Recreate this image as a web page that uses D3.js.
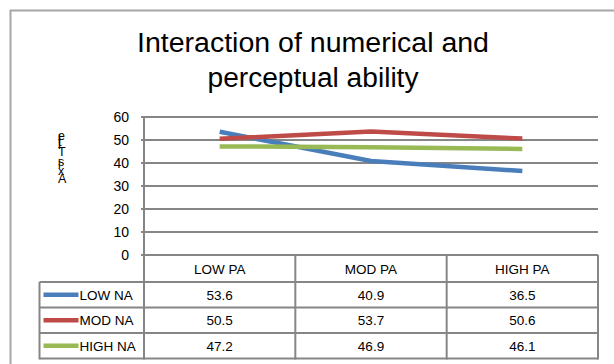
<!DOCTYPE html>
<html>
<head>
<meta charset="utf-8">
<script src="https://cdn.jsdelivr.net/npm/d3@7"></script>
<style>
  body { margin: 0; background: #fff; }
  svg { display: block; }
  text { font-family: "Liberation Sans Narrow", "Arial Narrow", "Liberation Sans", sans-serif; fill: #000; }
</style>
</head>
<body>
<div id="chart"></div>
<script>
// DATA
const categories = ["LOW PA", "MOD PA", "HIGH PA"];
const seriesNames = ["LOW NA", "MOD NA", "HIGH NA"];
const lowNA = [53.6, 40.9, 36.5];
const modNA = [50.5, 53.7, 50.6];
const highNA = [47.2, 46.9, 46.1];
const yTicks = [0, 10, 20, 30, 40, 50, 60];
const colors = ["#4a7ebb", "#be4b48", "#98b954"];

const series = [lowNA, modNA, highNA];

const w = 614, h = 364;
const svg = d3.select("#chart").append("svg")
  .attr("width", w).attr("height", h);

// outer chart border (only top and left visible)
svg.append("path")
  .attr("d", `M10.5,${h} V10.5 H${w}`)
  .attr("fill", "none")
  .attr("stroke", "#a6a6a6")
  .attr("stroke-width", 2);

// title
const title = svg.append("g");
title.append("text")
  .attr("x", 313).attr("y", 52)
  .attr("text-anchor", "middle")
  .attr("font-size", 27)
  .attr("textLength", 352).attr("lengthAdjust", "spacingAndGlyphs")
  .text("Interaction of numerical and");
title.append("text")
  .attr("x", 313).attr("y", 87)
  .attr("text-anchor", "middle")
  .attr("font-size", 27)
  .attr("textLength", 211).attr("lengthAdjust", "spacingAndGlyphs")
  .text("perceptual ability");

// scales
const x = d3.scaleBand().domain(categories).range([144, 598]);
const y = d3.scaleLinear().domain([0, 60]).range([255, 117]);

// gridlines
svg.append("g")
  .selectAll("line")
  .data(yTicks)
  .enter()
  .append("line")
  .attr("x1", 141).attr("x2", x.range()[1])
  .attr("y1", d => y(d)).attr("y2", d => y(d))
  .attr("stroke", "#868686")
  .attr("stroke-width", 2);

// y axis line
svg.append("line")
  .attr("x1", 144).attr("x2", 144)
  .attr("y1", y(60) - 1).attr("y2", y(0))
  .attr("stroke", "#868686").attr("stroke-width", 2);

// y tick labels
svg.append("g")
  .selectAll("text")
  .data(yTicks)
  .enter()
  .append("text")
  .attr("x", 129)
  .attr("y", d => y(d) + 5)
  .attr("text-anchor", "end")
  .attr("font-size", 14)
  .text(d => d);

// axis title: rotated line with upright glyphs squeezed together
svg.append("text")
  .attr("transform", "translate(58,183) rotate(-90)")
  .attr("rotate", 90)
  .attr("font-size", 12.5)
  .text("Axis Title");

// lines
const line = d3.line()
  .x((d, i) => x(categories[i]) + x.bandwidth() / 2)
  .y(d => y(d));

svg.append("g")
  .selectAll("path")
  .data(series)
  .enter()
  .append("path")
  .attr("d", line)
  .attr("fill", "none")
  .attr("stroke", (d, i) => colors[i])
  .attr("stroke-width", 4.5)
  .attr("stroke-linecap", "butt");

// data table
const rowTop = 255, headH = 27, rowH = 25.5;
const legendX = 39.5;
const tableRight = x.range()[1];
const grid = "#868686";
const table = svg.append("g");

// header row
table.append("line")
  .attr("x1", 144).attr("x2", tableRight)
  .attr("y1", rowTop).attr("y2", rowTop)
  .attr("stroke", grid).attr("stroke-width", 2);
table.selectAll("text.head")
  .data(categories)
  .enter()
  .append("text")
  .attr("class", "head")
  .attr("x", d => x(d) + x.bandwidth() / 2)
  .attr("y", rowTop + 19)
  .attr("text-anchor", "middle")
  .attr("font-size", 13.5)
  .text(d => d);

// horizontal row lines
const rowLines = d3.range(seriesNames.length + 1).map(i => rowTop + headH + i * rowH);
table.selectAll("line.row")
  .data(rowLines)
  .enter()
  .append("line")
  .attr("x1", legendX).attr("x2", tableRight)
  .attr("y1", d => d).attr("y2", d => d)
  .attr("stroke", grid).attr("stroke-width", 2);

// vertical column lines
const colX = categories.map(c => x(c)).concat([tableRight]);
table.selectAll("line.col")
  .data(colX)
  .enter()
  .append("line")
  .attr("x1", d => d).attr("x2", d => d)
  .attr("y1", rowTop).attr("y2", rowLines[rowLines.length - 1] + 1)
  .attr("stroke", grid).attr("stroke-width", 2);
table.append("line")
  .attr("x1", legendX).attr("x2", legendX)
  .attr("y1", rowLines[0]).attr("y2", rowLines[rowLines.length - 1] + 1)
  .attr("stroke", grid).attr("stroke-width", 2);

// rows
const rows = table.selectAll("g.row")
  .data(series)
  .enter()
  .append("g")
  .attr("transform", (d, i) => `translate(0, ${rowLines[i]})`);

rows.append("line")
  .attr("x1", legendX + 4).attr("x2", legendX + 39)
  .attr("y1", rowH / 2).attr("y2", rowH / 2)
  .attr("stroke", (d, i) => colors[i])
  .attr("stroke-width", 4.5);

rows.append("text")
  .attr("x", legendX + 40)
  .attr("y", rowH / 2 + 5)
  .attr("font-size", 13.5)
  .text((d, i) => seriesNames[i]);

rows.selectAll("text.val")
  .data(d => d)
  .enter()
  .append("text")
  .attr("class", "val")
  .attr("x", (d, i) => x(categories[i]) + x.bandwidth() / 2)
  .attr("y", rowH / 2 + 5)
  .attr("text-anchor", "middle")
  .attr("font-size", 13.5)
  .text(d => d.toFixed(1));
</script>
</body>
</html>
